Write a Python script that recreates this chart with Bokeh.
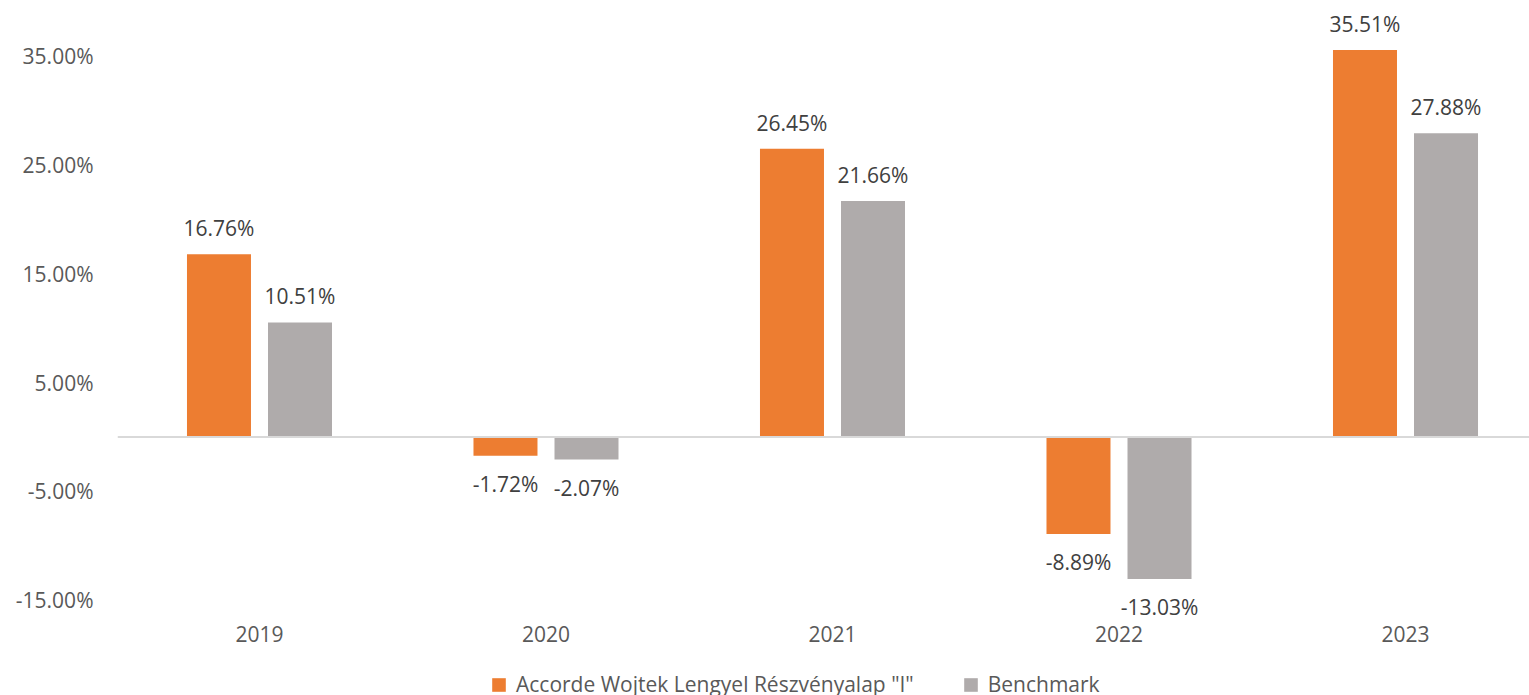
from bokeh.plotting import figure
from bokeh.layouts import column
from bokeh.models import ColumnDataSource, FixedTicker, PrintfTickFormatter, Span, Legend, LegendItem, Range1d
from bokeh.core.properties import value
from bokeh.embed import file_html
from bokeh.resources import INLINE

years = ["2019", "2020", "2021", "2022", "2023"]
fund = [16.76, -1.72, 26.45, -8.89, 35.51]
bench = [10.51, -2.07, 21.66, -13.03, 27.88]
fund_name = 'Accorde Wojtek Lengyel Részvényalap "I"'
bench_name = "Benchmark"
y_ticks = [-15, -5, 5, 15, 25, 35]

ORANGE = "#ED7D31"
GREY = "#AFABAB"
FONT = "Open Sans"
FS = "21px"

idx = list(range(len(years)))
off = 0.1414
bw = 0.2234

def src(vals, shift):
    xs = [i + shift for i in idx]
    labels = ["%.2f%%" % v for v in vals]
    yoff = [-26 if v >= 0 else 28 for v in vals]
    return ColumnDataSource(dict(x=xs, top=vals, label=labels, yoff=yoff))

s_f = src(fund, -off)
s_b = src(bench, off)

p = figure(width=1529, height=655, output_backend="svg", toolbar_location=None,
           title=None, x_range=Range1d(-0.4956, 4.4328), y_range=Range1d(-17.02, 40.05),
           min_border_left=117, min_border_right=0, min_border_top=0, min_border_bottom=33)
p.outline_line_color = None
p.xgrid.visible = False
p.ygrid.visible = False
p.background_fill_color = "white"
p.border_fill_color = "white"

p.vbar(x="x", top="top", bottom=0, width=bw, source=s_f, fill_color=ORANGE, line_color=None)
p.vbar(x="x", top="top", bottom=0, width=bw, source=s_b, fill_color=GREY, line_color=None)

p.add_layout(Span(location=0, dimension="width", line_color="#D9D9D9", line_width=2))

for s in (s_f, s_b):
    p.text(x="x", y="top", text="label", source=s, y_offset="yoff", text_align="center",
           text_baseline="middle", text_font=value(FONT), text_font_size=FS, text_color="#404040")

ya = p.yaxis[0]
ya.ticker = FixedTicker(ticks=y_ticks)
ya.formatter = PrintfTickFormatter(format="%.2f%%")
ya.axis_line_color = None
ya.major_tick_line_color = None
ya.minor_tick_line_color = None
ya.major_tick_in = 0
ya.major_tick_out = 0
ya.major_label_standoff = 24
ya.major_label_text_font = FONT
ya.major_label_text_font_size = FS
ya.major_label_text_color = "#595959"

xa = p.xaxis[0]
xa.ticker = FixedTicker(ticks=idx)
xa.major_label_overrides = {i: y for i, y in zip(idx, years)}
xa.axis_line_color = None
xa.major_tick_line_color = None
xa.minor_tick_line_color = None
xa.major_tick_in = 0
xa.major_tick_out = 0
xa.major_label_standoff = 3
xa.major_label_text_font = FONT
xa.major_label_text_font_size = FS
xa.major_label_text_color = "#595959"

# legend strip below the chart (frame aligned with the main chart's frame)
lg = figure(width=1529, height=40, output_backend="svg", toolbar_location=None,
            title=None, x_axis_type=None, y_axis_type=None,
            x_range=Range1d(0, 1), y_range=Range1d(0, 1),
            min_border_left=117, min_border_right=0, min_border_top=0, min_border_bottom=0)
lg.outline_line_color = None
lg.xgrid.visible = False
lg.ygrid.visible = False
lg.border_fill_color = "white"
hidden = dict(x=[-5], top=[0])
d1 = lg.vbar(x="x", top="top", width=0.1, source=ColumnDataSource(hidden), fill_color=ORANGE, line_color=None)
d2 = lg.vbar(x="x", top="top", width=0.1, source=ColumnDataSource(hidden), fill_color=GREY, line_color=None)

legend = Legend(items=[LegendItem(label=fund_name, renderers=[d1]),
                       LegendItem(label=bench_name, renderers=[d2])],
                location=(373, -3), orientation="horizontal",
                glyph_width=17, glyph_height=17, label_standoff=9, spacing=48,
                padding=0, margin=0, border_line_color=None, background_fill_alpha=0,
                label_text_font=FONT, label_text_font_size=FS, label_text_color="#595959",
                label_height=20)
lg.add_layout(legend, "center")

layout = column(p, lg, spacing=0)
open("out.html", "w").write(file_html(layout, INLINE))
